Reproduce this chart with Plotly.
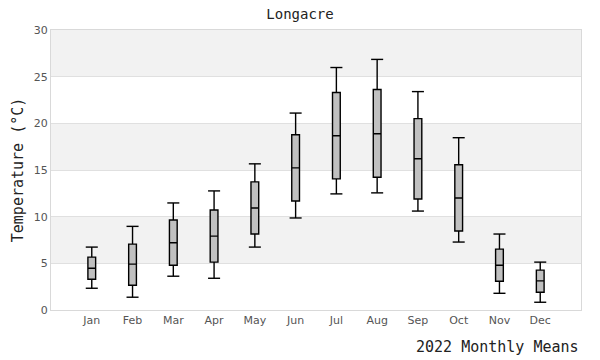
import plotly.graph_objects as go

months = ["Jan", "Feb", "Mar", "Apr", "May", "Jun", "Jul", "Aug", "Sep", "Oct", "Nov", "Dec"]
lower_whisker = [2.33, 1.37, 3.62, 3.40, 6.74, 9.86, 12.44, 12.55, 10.6, 7.28, 1.79, 0.83]
q1 = [3.30, 2.65, 4.80, 5.13, 8.14, 11.68, 14.05, 14.23, 11.9, 8.46, 3.08, 1.90]
median = [4.48, 4.91, 7.20, 7.92, 10.93, 15.23, 18.67, 18.89, 16.2, 12.0, 4.80, 3.12]
q3 = [5.67, 7.06, 9.64, 10.72, 13.73, 18.78, 23.3, 23.62, 20.5, 15.56, 6.52, 4.27]
upper_whisker = [6.74, 8.96, 11.47, 12.76, 15.66, 21.1, 25.98, 26.85, 23.4, 18.46, 8.14, 5.13]
y_ticks = [0, 5, 10, 15, 20, 25, 30]

fig = go.Figure()
fig.add_trace(go.Box(
    x=months, q1=q1, median=median, q3=q3,
    lowerfence=lower_whisker, upperfence=upper_whisker,
    fillcolor="#c0c0c0", line=dict(color="black", width=1.4),
    whiskerwidth=0, width=0.19, showlegend=False,
))
fig.add_trace(go.Scatter(
    x=months + months, y=lower_whisker + upper_whisker, mode="markers",
    marker=dict(symbol="line-ew", size=8.6, color="black", line=dict(color="black", width=1.4)),
    showlegend=False, hoverinfo="skip",
))

shapes = []
for lo in [5, 15, 25]:
    shapes.append(dict(type="rect", xref="paper", yref="y", x0=0, x1=1, y0=lo, y1=lo + 5,
                       fillcolor="#f2f2f2", line=dict(width=0), layer="below"))

fig.update_layout(
    width=600, height=360,
    margin=dict(l=51, r=19, t=30, b=50),
    paper_bgcolor="white", plot_bgcolor="white",
    title=dict(text="Longacre", x=0.5, xref="container", y=0.96, yanchor="middle",
               font=dict(family="DejaVu Sans Mono", size=14, color="#222"), automargin=False),
    shapes=shapes,
    xaxis=dict(type="category", categoryorder="array", categoryarray=months,
               range=[-1, 12], showgrid=False, showline=True, mirror=True,
               linecolor="#d9d9d9", linewidth=1, ticks="", ticklen=0, automargin=False,
               tickfont=dict(family="DejaVu Sans", size=11, color="#555")),
    yaxis=dict(range=[0, 30], tickvals=y_ticks, showgrid=True, gridcolor="#e0e0e0",
               zeroline=False, showline=True, mirror=True, linecolor="#d9d9d9", linewidth=1,
               ticks="", automargin=False, tickfont=dict(family="DejaVu Sans", size=11, color="#555"),
               title=dict(text="Temperature (°C)", standoff=6,
                          font=dict(family="DejaVu Sans Mono", size=15, color="#222"))),
    annotations=[dict(text="2022 Monthly Means", xref="paper", yref="paper", x=1, y=-0.132,
                      xanchor="right", yanchor="middle", showarrow=False,
                      font=dict(family="DejaVu Sans Mono", size=15, color="#222"))],
)

fig.write_html("out.html", config={"displayModeBar": False},
               post_script="document.body.style.margin='0';document.body.style.overflow='hidden';")
